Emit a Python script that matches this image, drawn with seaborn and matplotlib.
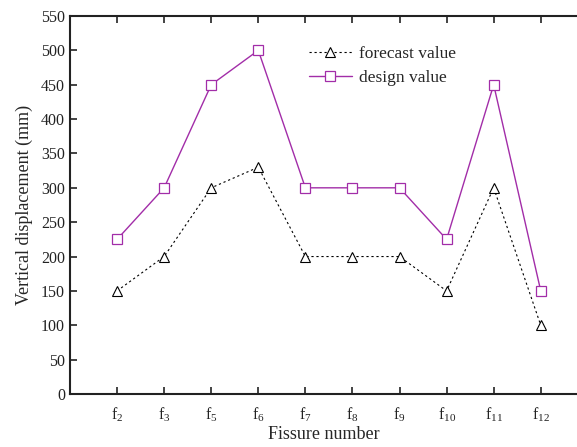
import matplotlib
matplotlib.use("Agg")
import matplotlib.pyplot as plt
import seaborn as sns
import pandas as pd

fissures = ["2", "3", "5", "6", "7", "8", "9", "10", "11", "12"]
forecast = [150, 200, 300, 330, 200, 200, 200, 150, 300, 100]
design = [225, 300, 450, 500, 300, 300, 300, 225, 450, 150]

sns.set_theme(style="ticks")
plt.rcParams["font.family"] = ["Liberation Serif", "DejaVu Serif"]
plt.rcParams["mathtext.fontset"] = "custom"
plt.rcParams["mathtext.rm"] = "Liberation Serif"
plt.rcParams["mathtext.it"] = "Liberation Serif"

pos = list(range(1, len(fissures) + 1))
df = pd.DataFrame({"pos": pos, "forecast": forecast, "design": design})

fig = plt.figure(figsize=(5.77, 4.47), dpi=100)
ax = fig.add_axes([70 / 577, 1 - 394 / 447, 1 - 70 / 577, (394 - 16) / 447])

purple = "#A22DA8"
sns.lineplot(data=df, x="pos", y="forecast", ax=ax, color="black", linestyle=(0, (2, 2.5)),
             linewidth=0.8, marker="^", markersize=7.5, markerfacecolor="white",
             markeredgecolor="black", markeredgewidth=0.8, label="forecast value")
sns.lineplot(data=df, x="pos", y="design", ax=ax, color=purple, linewidth=1.0,
             marker="s", markersize=6.5, markerfacecolor="white",
             markeredgecolor=purple, markeredgewidth=0.9, label="design value")

ax.set_xlim(0, 10.77)
ax.set_ylim(0, 550)
ax.set_yticks(range(0, 551, 50))
ax.set_xticks(pos)
ax.set_xticklabels([r"f$_{" + f + "}$" for f in fissures])
ax.tick_params(axis="both", direction="in", length=5, width=1.2, labelsize=11.5,
               colors="#222222", top=True, right=False)
ax.tick_params(axis="x", pad=8)
for side in ["left", "bottom", "top"]:
    ax.spines[side].set_linewidth(1.5)
    ax.spines[side].set_color("#222222")
ax.spines["right"].set_visible(False)

ax.set_xlabel("Fissure number", fontsize=13, labelpad=2)
ax.set_ylabel("Vertical displacement (mm)", fontsize=13, labelpad=6)

leg = ax.legend(loc="upper left", bbox_to_anchor=(0.44, 0.962), frameon=False,
                fontsize=12.5, handlelength=2.5, handletextpad=0.4, labelspacing=0.42)

fig.savefig("out.png", dpi=100)
